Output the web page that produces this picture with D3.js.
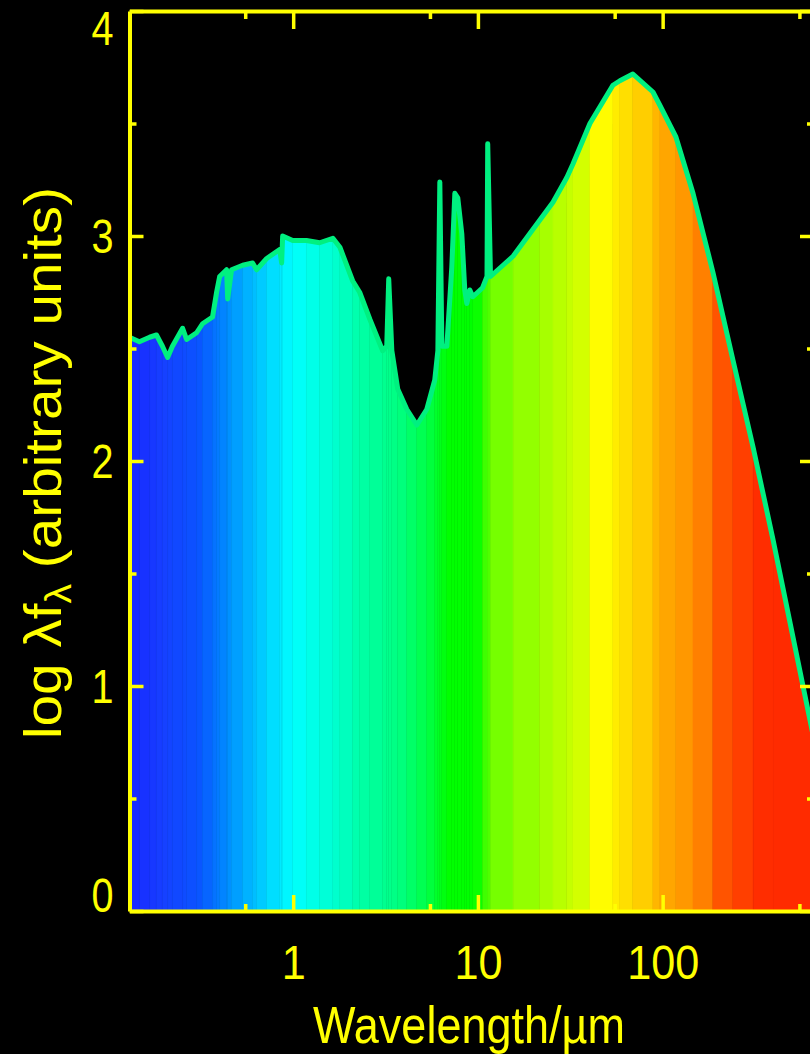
<!DOCTYPE html>
<html>
<head>
<meta charset="utf-8">
<script src="https://cdn.jsdelivr.net/npm/d3@7"></script>
<style>
  html, body { margin: 0; padding: 0; background: #000; }
  svg { display: block; }
  text { font-family: "Liberation Sans", Arial, sans-serif; fill: #ffff00; }
</style>
</head>
<body>
<div id="chart"></div>
<script>
// spectrum (wavelength in micron, log lambda f_lambda)
const wavelength = [0.130, 0.147, 0.167, 0.182, 0.196, 0.209, 0.222, 0.252, 0.265, 0.300,
  0.323, 0.366, 0.385, 0.400, 0.436, 0.442, 0.464, 0.533, 0.603, 0.634,
  0.719, 0.845, 0.866, 0.877, 0.994, 1.18, 1.39, 1.64, 1.79, 2.10,
  2.29, 2.60, 3.05, 3.21, 3.29, 3.42, 3.68, 4.12, 4.67, 5.29,
  5.84, 6.07, 6.22, 6.38, 6.79, 7.22, 7.50, 7.78, 8.18, 8.49,
  8.71, 9.04, 9.39, 10.6, 11.2, 11.3, 11.7, 15.5, 21.6, 25.5,
  30.3, 32.7, 40.4, 53.8, 58.7, 69.0, 88.6, 96.7, 118, 146,
  187, 240, 309, 396, 668]
const logFlux = [2.55, 2.53, 2.55, 2.56, 2.51, 2.46, 2.51, 2.59, 2.54, 2.57,
  2.61, 2.64, 2.75, 2.82, 2.85, 2.72, 2.85, 2.87, 2.88, 2.85,
  2.90, 2.94, 2.88, 3.00, 2.98, 2.98, 2.97, 2.99, 2.95, 2.80,
  2.75, 2.63, 2.49, 2.51, 2.81, 2.49, 2.32, 2.23, 2.16, 2.23,
  2.36, 2.49, 3.24, 2.51, 2.51, 2.86, 3.19, 3.17, 3.01, 2.76,
  2.70, 2.76, 2.73, 2.77, 2.82, 3.41, 2.82, 2.91, 3.07, 3.15,
  3.26, 3.32, 3.50, 3.67, 3.69, 3.72, 3.64, 3.58, 3.44, 3.19,
  2.84, 2.45, 2.06, 1.65, 0.74]

// rainbow fill, colour stops by wavelength
const colorWaves = [0.13, 0.2, 0.31, 0.45, 0.66, 1.0, 1.8, 2.3, 3.8, 5.5, 7.0, 9.8, 11, 14,
  22, 30, 38, 45, 55, 65, 80, 100, 130, 165, 210, 270, 350, 700]
const colorHex = ['#1a28ff', '#1640ff', '#0a55ff', '#0090ff', '#00c8ff', '#00ffff', '#00ffc8',
  '#00ffa8', '#00ff80', '#00ff40', '#00ff00', '#00ff00', '#44ff00', '#80ff00',
  '#a0ff00', '#c0ff00', '#d8ff00', '#ffff00', '#ffee00', '#ffdd00', '#ffcc00',
  '#ffaa00', '#ff9900', '#ff8000', '#ff5500', '#ff4000', '#ff2d00', '#ff2a00']

// ticks
const xMajor = [1, 10, 100]
const xMinor = [0.55, 5.5, 55, 550]
const yMajor = [0, 1, 2, 3, 4]
const yMinor = [0.5, 1.5, 2.5, 3.5]

const width = 810
const height = 1054
const plotL = 129.5, plotR = 815, plotT = 11, plotB = 911

const x = d3.scaleLog().domain([0.13, 668]).range([plotL, plotR])
const y = d3.scaleLinear().domain([0, 4]).range([plotB, plotT])
const color = d3.scaleLog().domain(colorWaves).range(colorHex).interpolate(d3.interpolateRgb)

const data = wavelength.map((w, i) => ({w: w, v: logFlux[i]}))

const svg = d3.select('#chart').append('svg')
  .attr('width', width)
  .attr('height', height)
  .style('background', '#000')

// filled stripes, one per segment
const area = d3.area()
  .x(d => x(d.w))
  .y0(y(0))
  .y1(d => y(d.v))

const segs = d3.pairs(data)
svg.append('g')
  .selectAll('path')
  .data(segs)
  .join('path')
  .attr('d', d => area(d))
  .attr('fill', d => color(Math.sqrt(d[0].w * d[1].w)))
  .attr('stroke', d => color(Math.sqrt(d[0].w * d[1].w)))
  .attr('stroke-width', 0.6)

// outline
const line = d3.line()
  .x(d => x(d.w))
  .y(d => y(d.v))

svg.append('path')
  .datum(data)
  .attr('d', line)
  .attr('fill', 'none')
  .attr('stroke', '#00f080')
  .attr('stroke-width', 5)
  .attr('stroke-linejoin', 'round')

// axes
function styleAxis(g, keepDomain) {
  g.selectAll('line').attr('stroke', '#ffff00').attr('stroke-width', 3.5)
  g.select('.domain').attr('stroke', keepDomain ? '#ffff00' : 'none').attr('stroke-width', 4)
  g.selectAll('text').attr('font-size', 48).attr('fill', '#ffff00')
}

const fmt = d => String(d)

// bottom
svg.append('g')
  .attr('transform', 'translate(0,' + plotB + ')')
  .call(d3.axisBottom(x).tickValues(xMinor).tickSize(-7).tickSizeOuter(0).tickFormat(''))
  .call(g => styleAxis(g, false))
svg.append('g')
  .attr('transform', 'translate(0,' + plotB + ')')
  .call(d3.axisBottom(x).tickValues(xMajor).tickSize(-16).tickSizeOuter(0).tickPadding(34).tickFormat(fmt))
  .call(g => styleAxis(g, true))
  .call(g => g.selectAll('text')
    .attr('textLength', d => fmt(d).length * 24)
    .attr('lengthAdjust', 'spacingAndGlyphs'))

// top
svg.append('g')
  .attr('transform', 'translate(0,' + plotT + ')')
  .call(d3.axisTop(x).tickValues(xMinor).tickSize(-8).tickSizeOuter(0).tickFormat(''))
  .call(g => styleAxis(g, false))
svg.append('g')
  .attr('transform', 'translate(0,' + plotT + ')')
  .call(d3.axisTop(x).tickValues(xMajor).tickSize(-18).tickSizeOuter(0).tickFormat(''))
  .call(g => styleAxis(g, true))

// left
svg.append('g')
  .attr('transform', 'translate(' + plotL + ',0)')
  .call(d3.axisLeft(y).tickValues(yMinor).tickSize(-7).tickSizeOuter(0).tickFormat(''))
  .call(g => styleAxis(g, false))
svg.append('g')
  .attr('transform', 'translate(' + plotL + ',0)')
  .call(d3.axisLeft(y).tickValues(yMajor).tickSize(-14).tickSizeOuter(0).tickPadding(16).tickFormat(fmt))
  .call(g => styleAxis(g, true))
  .call(g => g.selectAll('text')
    .attr('dy', d => d === 0 ? '0.02em' : d === 4 ? '0.69em' : '0.35em')
    .attr('textLength', 22)
    .attr('lengthAdjust', 'spacingAndGlyphs'))

// right
svg.append('g')
  .attr('transform', 'translate(' + plotR + ',0)')
  .call(d3.axisRight(y).tickValues(yMinor).tickSize(-8).tickSizeOuter(0).tickFormat(''))
  .call(g => styleAxis(g, false))
svg.append('g')
  .attr('transform', 'translate(' + plotR + ',0)')
  .call(d3.axisRight(y).tickValues(yMajor).tickSize(-15).tickSizeOuter(0).tickFormat(''))
  .call(g => styleAxis(g, true))

// axis titles
svg.append('text')
  .attr('x', 469)
  .attr('y', 1043)
  .attr('text-anchor', 'middle')
  .attr('font-size', 52)
  .attr('textLength', 312)
  .attr('lengthAdjust', 'spacingAndGlyphs')
  .text('Wavelength/\u00b5m')

const ylab = svg.append('text')
  .attr('transform', 'translate(61,463) rotate(-90)')
  .attr('text-anchor', 'middle')
  .attr('font-size', 52)
  .attr('textLength', 552)
  .attr('lengthAdjust', 'spacingAndGlyphs')
ylab.append('tspan').text('log \u03bbf')
ylab.append('tspan').attr('font-size', 36).attr('dy', 10).text('\u03bb')
ylab.append('tspan').attr('dy', -10).text(' (arbitrary units)')
</script>
</body>
</html>
